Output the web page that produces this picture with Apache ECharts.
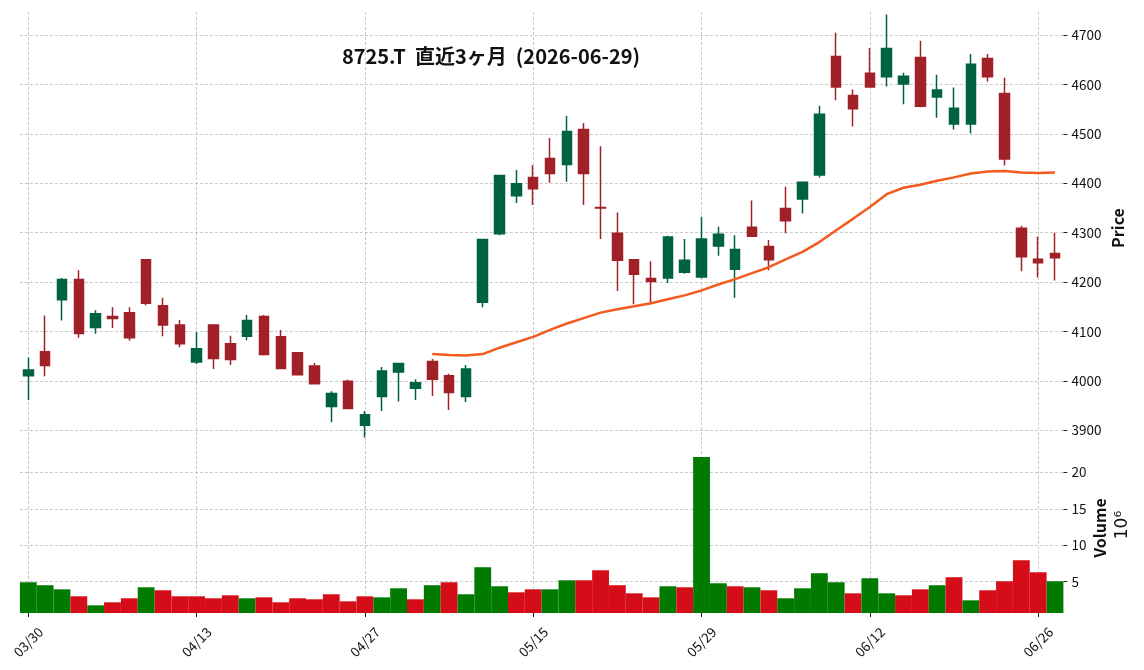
<!DOCTYPE html>
<html>
<head>
<meta charset="utf-8">
<title>8725.T 直近3ヶ月</title>
<script src="https://cdn.jsdelivr.net/npm/echarts@6/dist/echarts.min.js"></script>
<style>
  html, body { margin: 0; padding: 0; background: #fff; }
  #main { width: 1144px; height: 670px; }
</style>
</head>
<body>
<div id="main"></div>
<script>
// 日付 (営業日)
const dates = ["03/30","03/31","04/01","04/02","04/03","04/06","04/07","04/08","04/09","04/10",
  "04/13","04/14","04/15","04/16","04/17","04/20","04/21","04/22","04/23","04/24",
  "04/27","04/28","04/30","05/01","05/07","05/08","05/11","05/12","05/13","05/14",
  "05/15","05/18","05/19","05/20","05/21","05/22","05/25","05/26","05/27","05/28",
  "05/29","06/01","06/02","06/03","06/04","06/05","06/08","06/09","06/10","06/11",
  "06/12","06/15","06/16","06/17","06/18","06/19","06/22","06/23","06/24","06/25",
  "06/26","06/29"];

const opens = [4010,4059,4164,4205,4108,4130,4138,4245,4152,4113,
  4038,4113,4075,4090,4130,4089,4057,4030,3948,3999,
  3910,3968,4018,3985,4039,4010,3968,4159,4298,4375,
  4412,4450,4438,4509,4351,4299,4245,4207,4208,4220,
  4210,4273,4226,4311,4272,4349,4368,4417,4657,4578,
  4623,4616,4601,4655,4575,4520,4520,4653,4582,4309,
  4246,4258];
const highs = [4047,4132,4208,4224,4143,4149,4149,4246,4168,4123,
  4099,4114,4091,4133,4133,4103,4057,4036,3979,4002,
  3939,4028,4035,4003,4044,4014,4032,4286,4416,4427,
  4437,4492,4537,4522,4475,4341,4245,4242,4294,4287,
  4332,4312,4295,4365,4285,4393,4402,4557,4705,4590,
  4674,4742,4624,4689,4620,4594,4662,4662,4614,4314,
  4292,4300];
const lows = [3961,4009,4122,4087,4095,4107,4081,4153,4090,4068,
  4034,4024,4032,4082,4051,4025,4012,3994,3916,3944,
  3885,3939,3958,3961,3969,3941,3957,4149,4295,4360,
  4356,4401,4403,4356,4287,4182,4155,4155,4198,4217,
  4207,4253,4168,4293,4224,4299,4339,4412,4568,4515,
  4594,4596,4560,4554,4533,4509,4501,4606,4436,4222,
  4209,4203];
const closes = [4022,4031,4205,4096,4136,4126,4087,4157,4113,4075,
  4065,4045,4043,4122,4053,4025,4012,3994,3974,3944,
  3931,4020,4035,3996,4003,3976,4024,4286,4416,4399,
  4389,4420,4505,4420,4350,4244,4216,4201,4291,4244,
  4287,4297,4266,4293,4245,4324,4402,4540,4595,4551,
  4595,4673,4617,4556,4589,4552,4641,4616,4449,4251,
  4239,4249];

// 出来高 (単位: 10^6)
const volumes = [4.91,4.50,3.94,2.98,1.74,2.16,2.71,4.22,3.81,2.98,
  2.98,2.71,3.12,2.71,2.84,2.16,2.71,2.57,3.26,2.29,
  2.98,2.84,4.08,2.57,4.50,4.91,3.26,6.97,4.36,3.53,
  3.94,3.94,5.18,5.18,6.56,4.50,3.39,2.84,4.36,4.22,
  22.11,4.77,4.36,4.22,3.81,2.71,4.08,6.15,4.91,3.39,
  5.46,3.39,3.12,3.94,4.50,5.60,2.43,3.81,5.05,7.94,
  6.28,5.05];

// 25日移動平均 (index 24 から)
const maStart = 24;
const ma25Values = [4054,4052,4051,4054,4067,4078,4089,4103,4116,4127,
  4138,4145,4151,4157,4165,4173,4183,4195,4206,4218,
  4230,4246,4261,4281,4305,4328,4352,4378,4391,4397,
  4405,4412,4420,4424,4425,4422,4421,4422];

const priceTicks = [3900,4000,4100,4200,4300,4400,4500,4600,4700];
const volumeTicks = [5,10,15,20];

const FONT = '"Noto Sans CJK JP", "Noto Sans", sans-serif';
const UP = '#006340', DOWN = '#a02128';
const VUP = '#007a00', VDOWN = '#d50d18';

const ma25 = dates.map((d, i) => (i < maStart ? null : ma25Values[i - maStart]));
const candles = dates.map((d, i) => [opens[i], closes[i], lows[i], highs[i]]);
// 出来高の色は前日終値との比較
const volBars = volumes.map((v, i) => {
  const prev = i === 0 ? opens[0] : closes[i - 1];
  return { value: v, itemStyle: { color: closes[i] >= prev ? VUP : VDOWN } };
});

const grid = { show: true, lineStyle: { color: '#bdbdbd', width: 0.8, type: [3, 2] } };
const plain = v => String(v);

const chart = echarts.init(document.getElementById('main'));
chart.setOption({
  animation: false,
  backgroundColor: '#fff',
  textStyle: { fontFamily: FONT },
  grid: [
    { left: 19.9, right: 80.6, top: 12, height: 429 },
    { left: 19.9, right: 80.6, top: 441, height: 172 }
  ],
  xAxis: [
    {
      type: 'category', gridIndex: 0, data: dates,
      axisLine: { show: false }, axisTick: { show: false }, axisLabel: { show: false },
      splitLine: Object.assign({}, grid, { interval: 9, alignWithLabel: true })
    },
    {
      type: 'category', gridIndex: 1, data: dates,
      axisLine: { show: false },
      axisTick: { show: true, interval: 9, alignWithLabel: true, length: 4, lineStyle: { color: '#222' } },
      axisLabel: {
        interval: 9, rotate: 45, align: 'center', verticalAlign: 'middle',
        margin: 29, fontSize: 13.5, color: '#111', fontFamily: FONT
      },
      splitLine: Object.assign({}, grid, { interval: 9, alignWithLabel: true })
    }
  ],
  yAxis: [
    {
      type: 'value', gridIndex: 0, position: 'right', min: 3878, max: 4747,
      axisLine: { show: false },
      axisTick: { show: true, length: 4, customValues: priceTicks, lineStyle: { color: '#222' } },
      axisLabel: { customValues: priceTicks, formatter: plain, fontSize: 13.5, color: '#111', margin: 8, fontFamily: FONT },
      splitLine: grid
    },
    {
      type: 'value', gridIndex: 1, position: 'right', min: 0.69, max: 24.3,
      axisLine: { show: false },
      axisTick: { show: true, length: 4, customValues: volumeTicks, lineStyle: { color: '#222' } },
      axisLabel: { customValues: volumeTicks, formatter: plain, fontSize: 13.5, color: '#111', margin: 8, fontFamily: FONT },
      splitLine: grid
    }
  ],
  series: [
    {
      type: 'candlestick', xAxisIndex: 0, yAxisIndex: 0, data: candles,
      barWidth: 10,
      itemStyle: { color: UP, color0: DOWN, borderColor: UP, borderColor0: DOWN, borderWidth: 1.5 }
    },
    {
      type: 'line', xAxisIndex: 0, yAxisIndex: 0, data: ma25,
      showSymbol: false, symbol: 'none',
      lineStyle: { color: '#f25a1e', width: 2.5 }
    },
    {
      type: 'bar', xAxisIndex: 1, yAxisIndex: 1, data: volBars,
      barCategoryGap: '0%'
    }
  ],
  graphic: [
    {
      type: 'text', x: 491, y: 56,
      style: {
        text: '8725.T  直近3ヶ月  (2026-06-29)', fontSize: 20, fontWeight: 'bold',
        fontFamily: FONT, fill: '#111', align: 'center', verticalAlign: 'middle'
      }
    },
    {
      type: 'text', x: 1118, y: 228, rotation: Math.PI / 2,
      style: { text: 'Price', fontSize: 16, fontWeight: 'bold', fontFamily: FONT, fill: '#111', align: 'center', verticalAlign: 'middle' }
    },
    {
      type: 'text', x: 1100, y: 528, rotation: Math.PI / 2,
      style: { text: 'Volume', fontSize: 16, fontWeight: 'bold', fontFamily: FONT, fill: '#111', align: 'center', verticalAlign: 'middle' }
    },
    {
      type: 'text', x: 1123, y: 525, rotation: Math.PI / 2,
      style: { text: '10⁶', fontSize: 17, fontFamily: '"DejaVu Sans", sans-serif', fill: '#111', align: 'center', verticalAlign: 'middle' }
    }
  ]
});
</script>
</body>
</html>
